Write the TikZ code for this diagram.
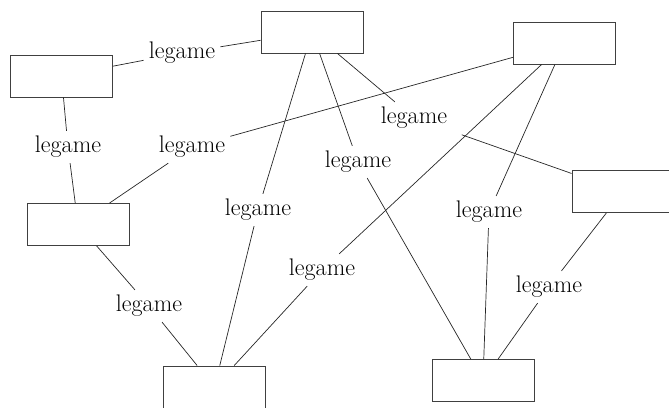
\documentclass[tikz,border=0pt]{standalone}
\usepackage{fontspec}
\usepackage{tikz}
\tikzset{
    mybox/.style = {rectangle, draw=black!75, line width=0.9pt, minimum width=102pt, minimum height=42pt, inner sep=0pt},
    mylabel/.style = {inner sep=5pt, font=\fontsize{24}{28}\selectfont},
}
\begin{document}
\begin{tikzpicture}[
	x=1pt,
	y=-1pt,
	line width=0.7pt
]
\tikzset{
    edgel/.style = {-, black!85}
}
\useasboundingbox (0,0) rectangle (669,407);
\clip (0,0) rectangle (669,407);
\node[mybox] at (61.5,76) (a) {};
\node[mybox] at (312,32) (b) {};
\node[mybox] at (564.5,43) (c) {};
\node[mybox] at (78,224.5) (d) {};
\node[mybox] at (623,191.5) (e) {};
\node[mybox] at (214.5,387) (f) {};
\node[mybox] at (483,380.5) (g) {};
%
\node[mylabel] at (182,53) (ab) {legame};
\node[mylabel] at (68,147) (ad) {legame};
\node[mylabel] at (192,147) (dc) {legame};
\node[mylabel] at (414,118) (be) {legame};
\node[mylabel] at (358,162) (bg) {legame};
\node[mylabel] at (258,210) (bf) {legame};
\node[mylabel] at (489,212) (cg) {legame};
\node[mylabel] at (322,270) (cf) {legame};
\node[mylabel] at (549,287) (eg) {legame};
\node[mylabel] at (149,306) (df) {legame};
%
\draw[edgel] (a) -- (ab);
\draw[edgel] (ab) -- (b);
\draw[edgel] (a) -- (ad);
\draw[edgel] (ad) -- (d);
\draw[edgel] (d) -- (dc);
\draw[edgel] (dc) -- (c);
%
\draw[edgel] (b) -- (bf);
\draw[edgel] (bf) -- (f);
\draw[edgel] (b) -- (bg);
\draw[edgel] (bg) -- (g);
\draw[edgel] (b) -- (be);
\draw[edgel, shorten <=10pt] (be) -- (e);
%
\draw[edgel] (c) -- (cf);
\draw[edgel] (cf) -- (f);
\draw[edgel] (c) -- (cg);
\draw[edgel] (cg) -- (g);
\draw[edgel] (e) -- (eg);
\draw[edgel] (eg) -- (g);
\draw[edgel] (d) -- (df);
\draw[edgel] (df) -- (f);
\end{tikzpicture}
\end{document}
